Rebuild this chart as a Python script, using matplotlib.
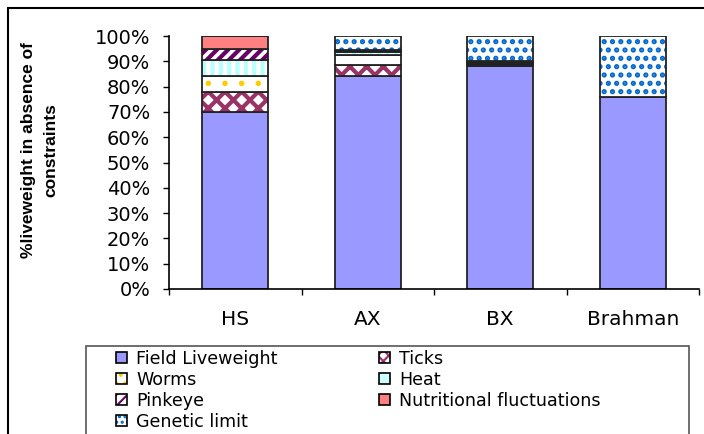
import numpy as np
import matplotlib
matplotlib.use("Agg")
import matplotlib.pyplot as plt
import matplotlib.patches as patches
from matplotlib.legend_handler import HandlerTuple

plt.rcParams['font.family'] = ['DejaVu Sans']

# data (% of liveweight, stacked bottom -> top)
breeds = ['HS', 'AX', 'BX', 'Brahman']
field_lw = [70.0, 84.0, 88.0, 76.0]
ticks = [8.0, 4.5, 0.5, 0.0]
worms = [6.0, 4.0, 0.5, 0.0]
heat = [6.5, 1.0, 0.5, 0.0]
pinkeye = [4.5, 0.5, 0.3, 0.0]
nutrition = [5.0, 0.5, 0.2, 0.0]
genetic = [0.0, 5.5, 10.0, 24.0]

# name, values, face, hatch, hatch colour, hatch lw, legend face, legend hatch
series = [
    ('Field Liveweight', field_lw, '#9999FF', None, None, 1, '#9999FF', None),
    ('Ticks', ticks, 'white', 'xx', '#993366', 3.0, 'white', 'xxx'),
    ('Worms', worms, 'white', '.', '#FFCC00', 1.5, 'white', '..'),
    ('Heat', heat, 'white', '||', '#B8FFFF', 3.0, '#CCFFFF', None),
    ('Pinkeye', pinkeye, 'white', '///', '#660066', 3.0, 'white', '///'),
    ('Nutritional fluctuations', nutrition, '#FF8080', None, None, 1, '#FF8080', None),
    ('Genetic limit', genetic, 'white', '..', '#0066CC', 2.5, 'white', '...'),
]

W, H = 704, 434
fig = plt.figure(figsize=(W / 100, H / 100), dpi=100)
ax = fig.add_axes([169 / W, 1 - 289 / H, 530 / W, 253 / H])

x = np.arange(len(breeds))
bottom = np.zeros(len(breeds))
handles = {}
for name, vals, fc, hatch, hc, hlw, lfc, lhatch in series:
    vals = np.array(vals) / 100.0
    with plt.rc_context({'hatch.linewidth': hlw}):
        if hatch:
            ax.bar(x, vals, 0.5, bottom=bottom, facecolor=fc,
                   edgecolor=hc, hatch=hatch, linewidth=0)
        else:
            ax.bar(x, vals, 0.5, bottom=bottom, color=fc, linewidth=0)
    ax.bar(x, vals, 0.5, bottom=bottom, fill=False,
           edgecolor='#222222', linewidth=1.3)
    if lhatch:
        h1 = patches.Patch(facecolor=lfc, edgecolor=hc, hatch=lhatch, linewidth=0)
    else:
        h1 = patches.Patch(facecolor=lfc, linewidth=0)
    h2 = patches.Patch(fill=False, edgecolor='black', linewidth=1.2)
    handles[name] = (h1, h2)
    bottom += vals

ax.set_xlim(-0.5, 3.5)
ax.set_ylim(0, 1)
yt = np.arange(0, 1.01, 0.1)
ax.set_yticks(yt)
ax.set_yticklabels(['{:d}%'.format(int(round(v * 100))) for v in yt])
ax.set_xticks(x)
ax.set_xticklabels(breeds)
ax.set_xticks(np.arange(-0.5, 3.6, 1), minor=True)
ax.tick_params(axis='x', which='major', length=0, pad=15, labelsize=14.5)
ax.tick_params(axis='x', which='minor', length=4, width=1)
ax.tick_params(axis='y', length=4, width=1, pad=9.5, labelsize=14)
for s in ['top', 'right']:
    ax.spines[s].set_visible(False)
for s in ['left', 'bottom']:
    ax.spines[s].set_linewidth(1.2)

fig.text(40 / W, 1 - 150 / H, '%liveweight in absence of\nconstraints',
         rotation=90, ha='center', va='center', fontsize=12.5,
         family=['Liberation Sans', 'DejaVu Sans'],
         fontweight='bold', multialignment='center', linespacing=1.6)

# legend, filled row by row
order = ['Field Liveweight', 'Worms', 'Pinkeye', 'Genetic limit',
         'Ticks', 'Heat', 'Nutritional fluctuations']
with plt.rc_context({'hatch.linewidth': 1.5}):
    leg = fig.legend([handles[n] for n in order], order, ncol=2,
                     handler_map={tuple: HandlerTuple(ndivide=1, pad=0)},
                     loc='upper left', bbox_to_anchor=(116 / W, 1 - 350 / H),
                     frameon=False, fontsize=12.6, borderpad=0, borderaxespad=0,
                     handlelength=0.6, handleheight=0.6, handletextpad=0.55,
                     labelspacing=0.17, columnspacing=5.8)

# legend frame and outer chart frame
fig.patches.append(patches.Rectangle((86 / W, -0.1), 603 / W, 0.1 + (434 - 346) / H,
                                     transform=fig.transFigure, fill=False,
                                     edgecolor='#555555', linewidth=1.2))
fig.patches.append(patches.Rectangle((8 / W, -0.1), 1.1, 0.1 + (434 - 8) / H,
                                     transform=fig.transFigure, fill=False,
                                     edgecolor='black', linewidth=1.5))

fig.savefig('out.png', dpi=100, facecolor='white')
